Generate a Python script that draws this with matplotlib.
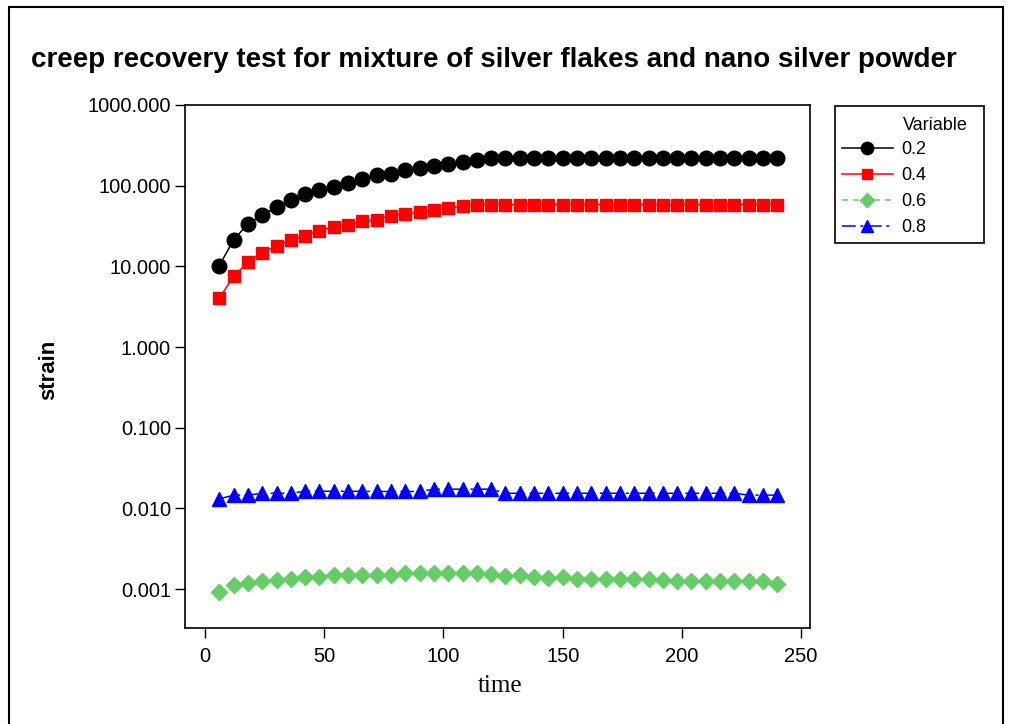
"""
Creep recovery test: strain vs time for four mixing ratios (log y axis).
"""

import matplotlib.pyplot as plt
from matplotlib.patches import Rectangle
from matplotlib.lines import Line2D
from matplotlib.ticker import FixedLocator, FormatStrFormatter, NullLocator

plt.rcParams['font.family'] = ['Liberation Sans', 'DejaVu Sans']

# time axis: one reading every 6 s
time = list(range(6, 241, 6))

strain_02 = [10.2, 21.4, 33.5, 43.4, 54.0, 67.1, 78.9, 87.7, 97.2, 108.0,
             121.0, 134.5, 141.0, 158.0, 166.0, 175.0, 186.0, 197.0, 206.0, 219.0,
             219.0, 219.0, 219.0, 219.0, 219.0, 219.0, 219.0, 219.0, 219.0, 219.0,
             219.0, 219.0, 219.0, 219.0, 219.0, 219.0, 219.0, 219.0, 219.0, 219.0]

strain_04 = [4.03, 7.54, 11.2, 14.7, 18.1, 21.2, 23.8, 27.7, 31.0, 32.6,
             36.2, 37.9, 42.5, 44.6, 47.2, 49.6, 52.5, 55.6, 58.2, 58.2,
             58.2, 58.2, 58.2, 58.2, 58.2, 58.2, 58.2, 58.2, 58.2, 58.2,
             58.2, 58.2, 58.2, 58.2, 58.2, 58.2, 58.2, 58.2, 58.2, 58.2]

strain_06 = [0.00091, 0.00112, 0.00120, 0.00125, 0.00129, 0.00132, 0.00142, 0.00142, 0.00149, 0.00149,
             0.00149, 0.00148, 0.00149, 0.00156, 0.00156, 0.00156, 0.00156, 0.00156, 0.00156, 0.00154,
             0.00146, 0.00149, 0.00141, 0.00138, 0.00141, 0.00134, 0.00132, 0.00132, 0.00132, 0.00134,
             0.00132, 0.00128, 0.00126, 0.00126, 0.00126, 0.00126, 0.00126, 0.00126, 0.00126, 0.00116]

strain_08 = [0.0131, 0.0146, 0.0146, 0.0154, 0.0154, 0.0154, 0.0163, 0.0163, 0.0163, 0.0163,
             0.0163, 0.0162, 0.0162, 0.0162, 0.0162, 0.0173, 0.0173, 0.0173, 0.0173, 0.0173,
             0.0154, 0.0154, 0.0154, 0.0154, 0.0154, 0.0154, 0.0154, 0.0154, 0.0154, 0.0154,
             0.0154, 0.0154, 0.0154, 0.0154, 0.0154, 0.0154, 0.0154, 0.0146, 0.0146, 0.0146]

labels = ['0.2', '0.4', '0.6', '0.8']
y_ticks = [0.001, 0.01, 0.1, 1, 10, 100, 1000]
x_ticks = [0, 50, 100, 150, 200, 250]

W, H = 1009, 724
fig = plt.figure(figsize=(W / 100, H / 100), dpi=100)
ax = fig.add_axes([185 / W, 1 - 628 / H, 625 / W, 523 / H])

styles = [
    dict(color='black', marker='o', ms=10.5, ls='-'),
    dict(color='#ff0000', marker='s', ms=8.8, ls='-'),
    dict(color='#66cc66', marker='D', ms=8.2, ls=(0, (4, 3))),
    dict(color='#0000ff', marker='^', ms=10, ls=(0, (9, 3, 2, 3))),
]
series = [strain_02, strain_04, strain_06, strain_08]

handles = []
for y, st, lab in zip(series, styles, labels):
    ax.plot(time, y, color=st['color'], ls=st['ls'], lw=1.1,
            marker=st['marker'], ms=st['ms'], mec=st['color'], mfc=st['color'])
    handles.append(Line2D([], [], color=st['color'], ls=st['ls'], lw=1.1,
                          marker=st['marker'], ms=st['ms'] * 0.85,
                          mec=st['color'], mfc=st['color']))

ax.set_yscale('log')
ax.set_ylim(3.29e-4, 1000)
ax.set_xlim(-8.4, 253.7)
ax.yaxis.set_major_locator(FixedLocator(y_ticks))
ax.yaxis.set_minor_locator(NullLocator())
ax.yaxis.set_major_formatter(FormatStrFormatter('%.3f'))
ax.xaxis.set_major_locator(FixedLocator(x_ticks))
ax.tick_params(direction='out', length=7, width=1, labelsize=14.5)
ax.tick_params(axis='y', pad=3)
ax.tick_params(axis='x', pad=7)
for sp in ax.spines.values():
    sp.set_linewidth(1.2)

ax.set_ylabel('strain', fontsize=16, fontweight='bold', labelpad=0)
ax.yaxis.set_label_coords(59 / W, 1 - 370 / H, transform=fig.transFigure)
ax.set_xlabel('time', fontsize=18, family=['Liberation Serif', 'DejaVu Serif'])
ax.xaxis.set_label_coords(500 / W, 1 - 675 / H, transform=fig.transFigure)

fig.text(494 / W, 1 - 60 / H, 'creep recovery test for mixture of silver flakes and nano silver powder',
         ha='center', va='center', fontsize=20, fontweight='bold')

# legend: entries without frame, box and heading drawn separately
leg = fig.legend(handles, labels, loc='upper left', bbox_to_anchor=(842 / W, 1 - 141 / H),
                 frameon=False, fontsize=13, handlelength=2.8, handletextpad=0.5,
                 labelspacing=0.5, borderaxespad=0, borderpad=0)
fig.text(903 / W, 1 - 125 / H, 'Variable', ha='left', va='center', fontsize=13)
fig.add_artist(Rectangle((835 / W, 1 - 243 / H), 149 / W, 137 / H, transform=fig.transFigure,
                         fill=False, ec='black', lw=1.2))

# outer border
fig.add_artist(Rectangle((9 / W, -0.05), 994 / W, 1.05 - 7 / H, transform=fig.transFigure,
                         fill=False, ec='black', lw=1.5))

fig.savefig('out.png', dpi=100)
